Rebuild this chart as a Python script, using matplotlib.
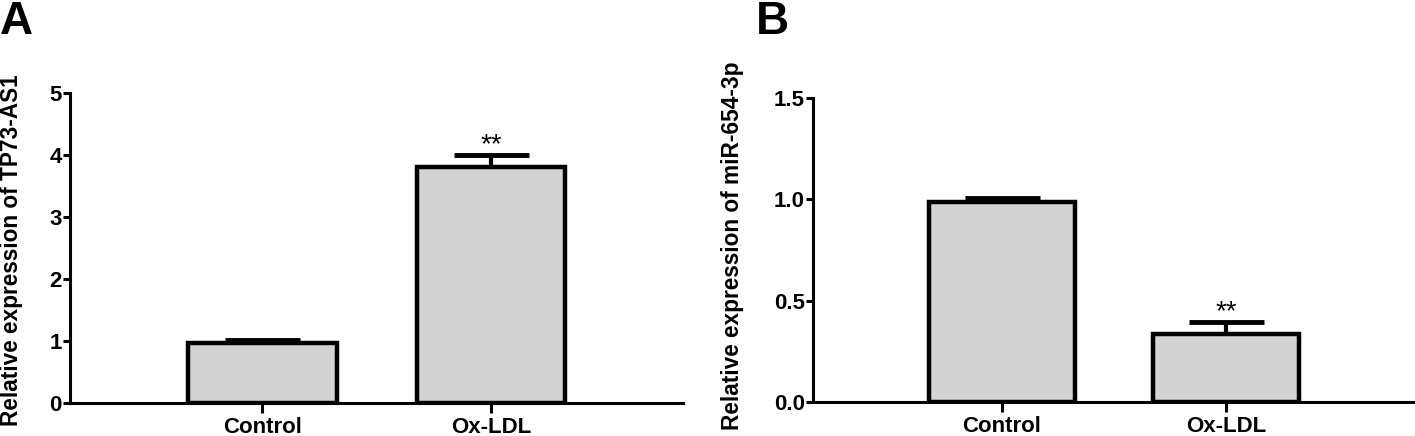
import matplotlib
matplotlib.use("Agg")
import matplotlib.pyplot as plt

plt.rcParams['font.family'] = ['Liberation Sans', 'DejaVu Sans']

groups = ["Control", "Ox-LDL"]

# panel A: TP73-AS1
tp73_mean = [0.97, 3.81]
tp73_err = [0.05, 0.19]
# panel B: miR-654-3p
mir_mean = [0.985, 0.335]
mir_err = [0.02, 0.06]

fig = plt.figure(figsize=(14.15, 4.36), dpi=100)
ax_a = fig.add_axes([0.0495, 0.0757, 0.4332, 0.711])
ax_b = fig.add_axes([0.5746, 0.078, 0.4254, 0.697])


def panel(ax, means, errs, ylim, yticks, ylabel, ticklabels, labx, laby):
    pos = list(range(len(groups)))
    ax.errorbar(pos, means, yerr=[[0] * len(errs), errs], fmt='none',
                ecolor='black', elinewidth=3, capsize=27, capthick=3.5, zorder=1)
    ax.bar(pos, means, width=0.65, color='lightgray', edgecolor='black',
           linewidth=3.2, zorder=2)
    ax.set_xlim(-0.84, 1.84)
    ax.set_ylim(*ylim)
    ax.set_yticks(yticks)
    ax.set_yticklabels(ticklabels)
    ax.set_xticks(pos)
    ax.set_xticklabels(groups)
    for s in ['top', 'right']:
        ax.spines[s].set_visible(False)
    for s in ['left', 'bottom']:
        ax.spines[s].set_linewidth(2.2)
    ax.tick_params(axis='y', length=5, width=2.2, labelsize=16, pad=1)
    ax.tick_params(axis='x', length=7, width=2.2, labelsize=16, pad=3)
    for lab in ax.get_xticklabels() + ax.get_yticklabels():
        lab.set_fontweight('bold')
    ax.set_ylabel(ylabel, fontsize=16.3, fontweight='bold')
    ax.yaxis.set_label_coords(labx, laby)
    ax.patch.set_alpha(0)
    for sp in ax.spines.values():
        sp.set_clip_on(False)
    # significance stars above the treated group
    ax.annotate("**", xy=(1, means[1] + errs[1]), xytext=(0, 16.5),
                textcoords='offset points', ha='center', va='top', fontsize=20)


panel(ax_a, tp73_mean, tp73_err, (0, 5), [0, 1, 2, 3, 4, 5],
      "Relative expression of TP73-AS1", ["0", "1", "2", "3", "4", "5"], -0.077, 0.494)
panel(ax_b, mir_mean, mir_err, (0, 1.5), [0, 0.5, 1.0, 1.5],
      "Relative expression of miR-654-3p", ["0.0", "0.5", "1.0", "1.5"], -0.115, 0.513)

fig.text(0.0, 1.0, "A", fontsize=33, fontweight='bold', ha='left', va='top')
fig.text(0.534, 1.0, "B", fontsize=33, fontweight='bold', ha='left', va='top')

fig.savefig("out.png", dpi=100, facecolor='white')
